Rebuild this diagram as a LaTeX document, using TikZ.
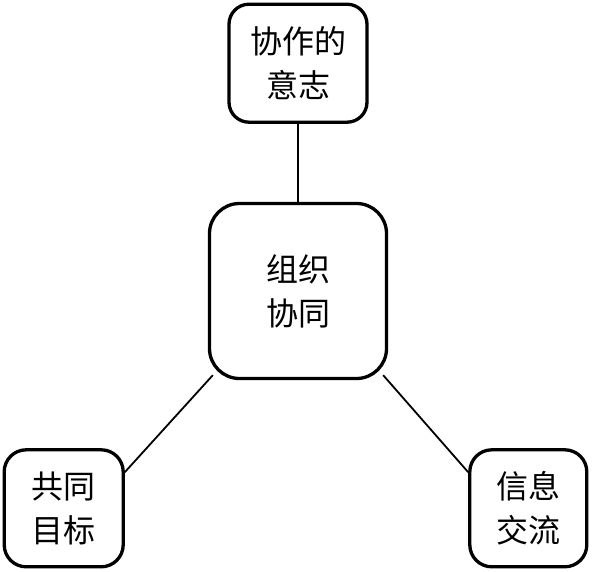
\documentclass[tikz,border=0pt]{standalone}
\usepackage{fontspec}
\setmainfont{Noto Sans CJK SC}
\usepackage{tikz}
\usetikzlibrary{positioning}

\begin{document}
\begin{tikzpicture}[
  node distance = 1cm,
  every node/.style = {
      draw, rectangle, line width=3.3pt, align=center,
      font=\fontsize{32}{44}\selectfont
  },
  link/.style = {line width=1.8pt}
]
  \useasboundingbox (-298pt,-280pt) rectangle (295pt,291pt);
  % 中心节点
  \node[minimum width=177pt, minimum height=175pt, rounded corners=30pt] (cen) at (0,0) {组织\\协同};
  % 三个要素
  \node[minimum width=138pt, minimum height=118pt, rounded corners=20pt, above=78pt of cen] (will) {协作的\\意志};  % 上
  \node[minimum width=119pt, minimum height=117pt, rounded corners=22pt, below left=68pt and 83pt of cen] (goal) {共同\\目标};  % 左下
  \node[minimum width=117pt, minimum height=117pt, rounded corners=22pt, below right=68pt and 80pt of cen] (info) {信息\\交流};  % 右下
  % 连线
  \draw[link] (will.south) -- (cen.north);
  \draw[link] ([shift={(5pt,5pt)}]cen.south west) -- ([yshift=-24pt]goal.north east);
  \draw[link] ([shift={(-5pt,5pt)}]cen.south east) -- ([yshift=-24pt]info.north west);
\end{tikzpicture}
\end{document}
